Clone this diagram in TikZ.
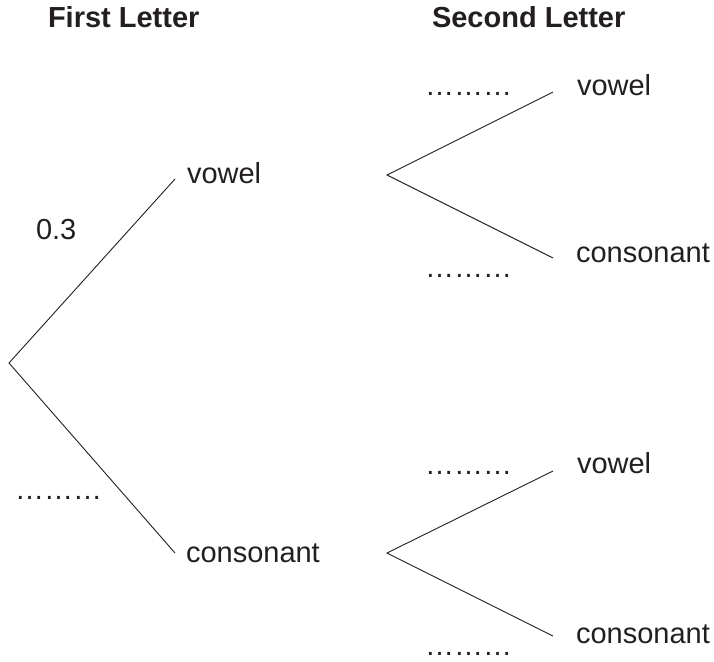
\documentclass[tikz,border=0pt]{standalone}
\usepackage{fontspec}
\setmainfont{Liberation Sans}
\definecolor{ink}{HTML}{231F20}
\begin{document}
\begin{tikzpicture}[x=1pt,y=-1pt,
  lbl/.style={anchor=base west,inner sep=0pt,outer sep=0pt,text=ink,font=\fontsize{29}{34}\selectfont},
  hdr/.style={lbl,font=\fontsize{29}{34}\selectfont\bfseries},
  branch/.style={draw=ink,line width=0.9pt}]
\useasboundingbox (0,0) rectangle (714,661);
% headers
\node[hdr] (h1) at (48,28) {First Letter};
\node[hdr] (h2) at (432,28) {Second Letter};
% tree points
\coordinate (r) at (9,363);
\coordinate (v1) at (175,179);
\coordinate (c1) at (175,553);
\coordinate (rv) at (387,175);
\coordinate (vv) at (553,92);
\coordinate (vc) at (553,258);
\coordinate (rc) at (387,553);
\coordinate (cv) at (553,471);
\coordinate (cc) at (553,636);
% branches
\draw[branch] (v1) -- (r) -- (c1);
\draw[branch] (vv) -- (rv) -- (vc);
\draw[branch] (cv) -- (rc) -- (cc);
% labels
\node[lbl] (tv1) at (187,183) {vowel};
\node[lbl] (tc1) at (186,562) {consonant};
\node[lbl] (tvv) at (577,95) {vowel};
\node[lbl] (tvc) at (576,262) {consonant};
\node[lbl] (tcv) at (577,473) {vowel};
\node[lbl] (tcc) at (576,643) {consonant};
% probabilities
\node[lbl] (p1) at (36,239) {0.3};
\node[lbl] (p2) at (15,499) {………};
\node[lbl] (p3) at (425,95) {………};
\node[lbl] (p4) at (425,277) {………};
\node[lbl] (p5) at (425,474) {………};
\node[lbl] (p6) at (425,655) {………};
\end{tikzpicture}
\end{document}
